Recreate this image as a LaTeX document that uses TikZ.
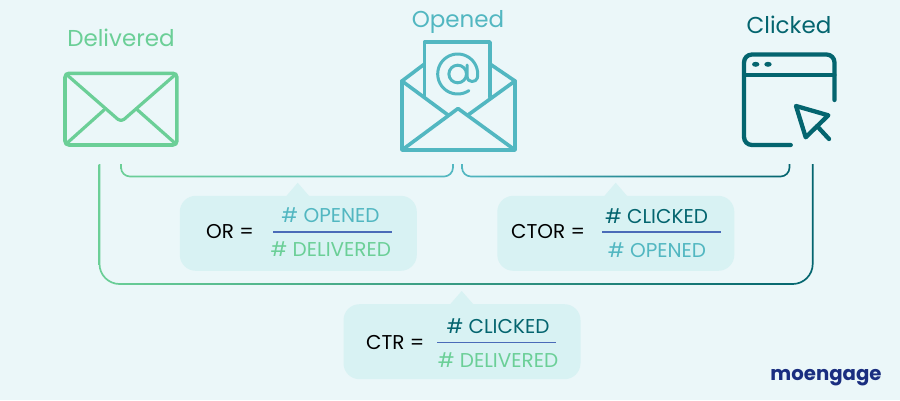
\documentclass[tikz,border=0pt]{standalone}
\usepackage{fontspec}
\setmainfont{Poppins}
\definecolor{bgc}{HTML}{EBF7F9}
\definecolor{boxc}{HTML}{D8F2F3}
\definecolor{gr}{HTML}{6BCF97}
\definecolor{tl}{HTML}{52B7C1}
\definecolor{dk}{HTML}{04656F}
\definecolor{barc}{HTML}{4A6BB8}
\definecolor{logoc}{HTML}{1A2E80}
\newcommand{\brk}[8]{%
 \pgfmathsetmacro{\xl}{#1-#6/2}\pgfmathsetmacro{\xr}{#2+#6/2}
 \pgfmathsetmacro{\yb}{#4+#6/2}\pgfmathsetmacro{\ro}{#5+#6/2}
 \pgfmathsetmacro{\xli}{#1+#6/2}\pgfmathsetmacro{\xri}{#2-#6/2}
 \pgfmathsetmacro{\ybi}{#4-#6/2}\pgfmathsetmacro{\ri}{#5-#6/2}
 \shade[left color=#7,right color=#8]
  (\xl,#3) -- (\xl,\yb-\ro) .. controls (\xl,\yb-.45*\ro) and (\xl+.45*\ro,\yb) .. (\xl+\ro,\yb)
  -- (\xr-\ro,\yb) .. controls (\xr-.45*\ro,\yb) and (\xr,\yb-.45*\ro) .. (\xr,\yb-\ro)
  -- (\xr,#3) -- (\xri,#3) -- (\xri,\ybi-\ri) .. controls (\xri,\ybi-.45*\ri) and (\xri-.45*\ri,\ybi) .. (\xri-\ri,\ybi)
  -- (\xli+\ri,\ybi) .. controls (\xli+.45*\ri,\ybi) and (\xli,\ybi-.45*\ri) .. (\xli,\ybi-\ri)
  -- (\xli,#3) -- cycle;}
\tikzset{
 title/.style={anchor=base,inner sep=0pt,font=\fontsize{23}{23}\selectfont},
 ftext/.style={anchor=base,inner sep=0pt,font=\fontsize{20}{20}\selectfont},
 lhs/.style={anchor=base west,inner sep=0pt,text=black,font=\fontsize{20}{20}\selectfont},
 boxn/.style={fill=boxc,rounded corners=16pt,inner sep=0pt,minimum width=237pt,minimum height=75pt},
 tip/.style={fill=boxc},
 fbar/.style={barc,line width=1.1pt},
 icon/.style={line width=#1,line join=round,line cap=round},
}
\begin{document}
\begin{tikzpicture}[x=1pt,y=-1pt]
\useasboundingbox (0,0) rectangle (900,400);
\fill[bgc] (0,0) rectangle (900,400);
% titles
\node[title,text=gr] (tdel) at (121,46) {Delivered};
\node[title,text=tl] (topn) at (458,27) {Opened};
\node[title,text=dk] (tclk) at (789,33) {Clicked};
% delivered envelope
\draw[gr,icon=3.6pt,rounded corners=4pt] (65,73.3) rectangle (176.9,145);
\draw[gr,icon=3.2pt,rounded corners=4pt] (66,74) -- (121,122) -- (176,74);
\draw[gr,icon=3.2pt] (66,144) -- (104,110) (176,144) -- (137,109.5);
% opened envelope
\draw[tl,icon=3.6pt] (424.5,97) -- (424.5,42) -- (490,42) -- (490,97);
\draw[tl,icon=3.6pt] (402,81) -- (402,150) -- (515,150) -- (515,81);
\draw[tl,icon=3.6pt] (424.5,64) -- (402,81) -- (448,115);
\draw[tl,icon=3.6pt] (490,64) -- (515,81) -- (468,115);
\draw[tl,icon=3.6pt] (402,150) -- (458,108.5) -- (515,150);
\draw[tl,icon=3pt] (457.7,74) circle (8.8);
\draw[tl,icon=3pt] plot[domain=56:372,samples=50] ({457.7+20*cos(\x)},{74+20*sin(\x)})
   .. controls (476.5,82) and (467.5,84) .. (467,76) -- (467,65);
% clicked window
\draw[dk,icon=4.3pt,rounded corners=8pt] (834.5,100) -- (834.5,54.5) -- (744,54.5) -- (744,145) -- (790.7,145);
\draw[dk,icon=4pt] (744,74.7) -- (834.5,74.7);
\fill[dk] (755.7,64.3) ellipse (3.7 and 2.5) (768,64.3) ellipse (3.7 and 2.5);
\draw[dk,icon=4.3pt] (796,106) -- (828.3,115.3) -- (805.7,137.3) -- cycle;
\draw[dk,icon=4.3pt] (817,126) -- (829,139);
% brackets
\brk{121}{453}{164}{176.5}{9}{1.7}{gr}{tl}
\brk{462}{789.5}{164}{176.5}{9}{1.7}{tl}{dk}
\brk{99.5}{812.7}{164}{284}{20}{1.7}{gr}{dk}
% OR
\fill[tip] (285.5,197) -- (297.7,182.7) -- (310,197) -- cycle;
\node[boxn] (orb) at (298.3,233.3) {};
\node[lhs] (orl) at (206,238) {OR =};
\node[ftext,text=tl] (orn) at (330.5,222.5) {\# OPENED};
\node[ftext,text=gr] (ord) at (330.8,256.5) {\# DELIVERED};
\coordinate (orb1) at (273,232); \coordinate (orb2) at (392,232);
\draw[fbar] (orb1) -- (orb2);
% CTOR
\fill[tip] (603.5,197) -- (615.7,182.7) -- (628,197) -- cycle;
\node[boxn] (ctob) at (615.8,233.3) {};
\node[lhs] (ctol) at (511,238) {CTOR =};
\node[ftext,text=dk] (cton) at (656.5,223) {\# CLICKED};
\node[ftext,text=tl] (ctod) at (657,257) {\# OPENED};
\coordinate (ctob1) at (602,232); \coordinate (ctob2) at (721,232);
\draw[fbar] (ctob1) -- (ctob2);
% CTR
\fill[tip] (449.5,305) -- (461.7,291) -- (474,305) -- cycle;
\node[boxn] (ctrb) at (462,341.7) {};
\node[lhs] (ctrl) at (366,349) {CTR =};
\node[ftext,text=dk] (ctrn) at (498,333.3) {\# CLICKED};
\node[ftext,text=gr] (ctrd) at (498,367) {\# DELIVERED};
\coordinate (ctrb1) at (437,342.5); \coordinate (ctrb2) at (556,342.5);
\draw[fbar] (ctrb1) -- (ctrb2);
% logo
\node[anchor=base,inner sep=0pt,text=logoc,font=\fontsize{19.7}{20}\selectfont\bfseries] (logo) at (826,380) {moengage};
\end{tikzpicture}
\end{document}
